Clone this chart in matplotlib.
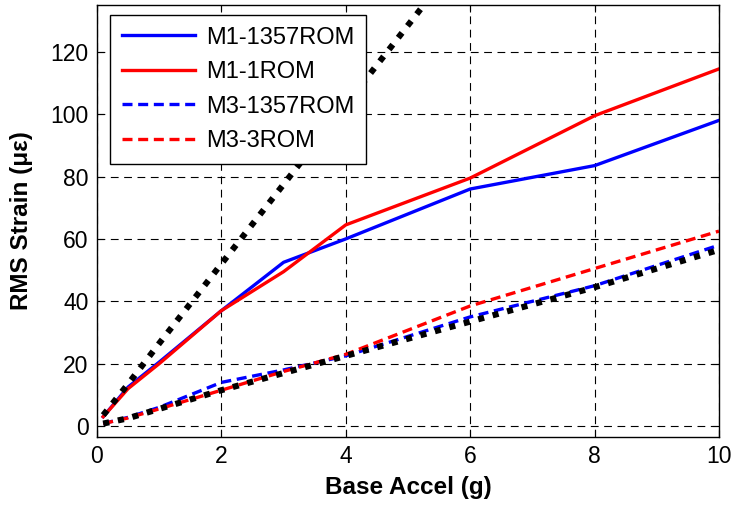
import matplotlib
matplotlib.use("Agg")
import matplotlib.pyplot as plt

plt.rcParams['font.family'] = ['Liberation Sans', 'DejaVu Sans']

# base acceleration (g)
accel = [0.1, 0.5, 1, 2, 3, 4, 6, 8, 10]

# RMS strain (micro-strain)
m1_1357rom = [3, 12.5, 20.5, 37, 52.5, 60, 76, 83.5, 98]
m1_1rom = [3, 12, 20, 37, 49.5, 64.5, 79.5, 99.5, 114.5]
m3_1357rom = [0.8, 2.8, 6, 14, 18, 22.5, 35, 45, 58]
m3_3rom = [0.8, 2.6, 5.5, 11.5, 17.5, 23, 38.5, 50.5, 62.5]

# black dotted reference lines (not in legend)
ref_m1 = [3.5, 13.5, 26.5, 52, 77.5, 103, 154, 205, 256]
ref_m3 = [0.8, 2.5, 5.5, 11.5, 17, 22.5, 33.5, 44.5, 56.5]

labels = ['M1-1357ROM', 'M1-1ROM', 'M3-1357ROM', 'M3-3ROM']

fig = plt.figure(figsize=(7.32, 5.08), dpi=100)
ax = fig.add_axes([0.1325, 0.1398, 0.8497, 0.8504])

lw = 2.4
l1, = ax.plot(accel, m1_1357rom, color='#0000ff', lw=lw, label=labels[0])
l2, = ax.plot(accel, m1_1rom, color='#ff0000', lw=lw, label=labels[1])
l3, = ax.plot(accel, m3_1357rom, color='#0000ff', lw=lw, ls=(0, (3.0, 1.7)), label=labels[2])
l4, = ax.plot(accel, m3_3rom, color='#ff0000', lw=lw, ls=(0, (3.0, 1.7)), label=labels[3])
ax.plot(accel, ref_m1, color='k', lw=4.4, ls=(0, (1, 1.45)))
ax.plot(accel, ref_m3, color='k', lw=4.4, ls=(0, (1, 1.45)))

ax.set_xlim(0, 10)
ax.set_ylim(-3.5, 135)
ax.set_xticks([0, 2, 4, 6, 8, 10])
ax.set_yticks([0, 20, 40, 60, 80, 100, 120])

ax.grid(True, color='k', lw=0.8, ls=(0, (7, 5)))
ax.tick_params(direction='in', length=5, width=0.8, top=True, right=True,
               labelsize=16.5, pad=6)
for s in ax.spines.values():
    s.set_linewidth(1.0)

ax.set_xlabel('Base Accel (g)', fontsize=17.5, fontweight='bold')
ax.set_ylabel('RMS Strain (με)', fontsize=17.5, fontweight='bold')
ax.xaxis.set_label_coords(0.5, -0.090)
ax.yaxis.set_label_coords(-0.103, 0.5)

leg = ax.legend(handles=[l1, l2, l3, l4], loc='upper left',
                bbox_to_anchor=(0.021, 0.977), fontsize=17,
                handlelength=3.1, handletextpad=0.45, labelspacing=0.53,
                borderpad=0.5, borderaxespad=0, fancybox=False,
                framealpha=1, edgecolor='k')
leg.get_frame().set_linewidth(1.0)

fig.savefig('out.png', dpi=100)
